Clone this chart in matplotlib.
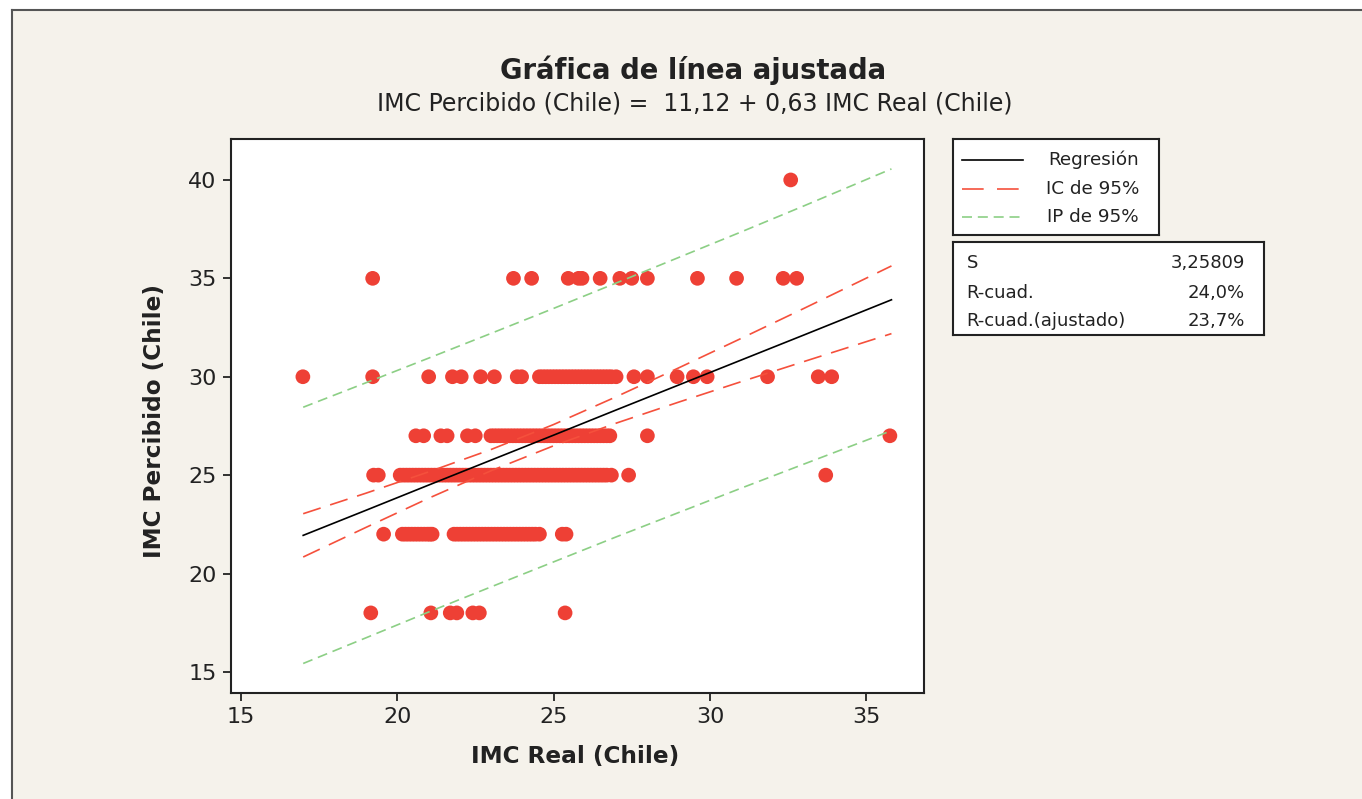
import matplotlib
matplotlib.use("Agg")
import matplotlib.pyplot as plt
from matplotlib.patches import Rectangle
from matplotlib.lines import Line2D

plt.rcParams['font.family'] = ['DejaVu Sans']

# IMC real de cada punto, agrupado por el IMC percibido (filas)
x_18 = [19.16, 21.08, 21.7, 21.91, 22.42, 22.63, 25.37]
x_22 = [19.57, 20.17, 20.27, 20.37, 20.47, 20.57, 20.67, 20.77, 20.87, 20.97,
        21.05, 21.12, 21.82, 21.92, 22.02, 22.12, 22.22, 22.32, 22.42, 22.52,
        22.62, 22.72, 22.82, 22.92, 23.02, 23.12, 23.22, 23.32, 23.42, 23.52,
        23.62, 23.72, 23.82, 23.92, 24.02, 24.12, 24.22, 24.32, 24.42, 24.55,
        25.28, 25.4]
x_25 = [19.25, 19.4, 20.1, 20.2, 20.3, 20.4, 20.5, 20.6, 20.7, 20.8, 20.9,
        21.0, 21.1, 21.2, 21.3, 21.4, 21.5, 21.6, 21.7, 21.8, 21.9, 22.0,
        22.1, 22.2, 22.3, 22.4, 22.5, 22.6, 22.7, 22.8, 22.9, 23.0, 23.1,
        23.2, 23.3, 23.4, 23.5, 23.6, 23.7, 23.8, 23.9, 24.0, 24.1, 24.2,
        24.3, 24.4, 24.5, 24.6, 24.7, 24.8, 24.9, 25.0, 25.1, 25.2, 25.3,
        25.4, 25.5, 25.6, 25.7, 25.8, 25.9, 26.0, 26.1, 26.2, 26.3, 26.4,
        26.5, 26.6, 26.7, 26.85, 27.4, 33.7]
x_27 = [20.6, 20.85, 21.4, 21.6, 22.25, 22.5, 23.0, 23.1, 23.2, 23.3, 23.4,
        23.5, 23.6, 23.7, 23.8, 23.9, 24.0, 24.1, 24.2, 24.3, 24.4, 24.5,
        24.6, 24.7, 24.8, 24.9, 25.0, 25.1, 25.2, 25.3, 25.4, 25.5, 25.6,
        25.7, 25.8, 25.9, 26.0, 26.1, 26.2, 26.3, 26.4, 26.5, 26.6, 26.7,
        26.8, 28.0, 35.75]
x_30 = [16.99, 19.22, 21.01, 21.77, 22.05, 22.67, 23.11, 23.84, 23.98, 24.55,
        24.65, 24.75, 24.85, 24.95, 25.05, 25.15, 25.25, 25.35, 25.45, 25.55,
        25.65, 25.75, 25.85, 25.95, 26.05, 26.15, 26.25, 26.35, 26.45, 26.55,
        26.65, 26.75, 26.85, 27.0, 27.57, 28.0, 28.95, 29.47, 29.91, 31.84,
        33.46, 33.89]
x_35 = [19.22, 23.72, 24.3, 25.47, 25.8, 25.91, 26.49, 27.12, 27.5, 28.0,
        29.6, 30.85, 32.34, 32.77]
x_40 = [32.58]
rows = {18: x_18, 22: x_22, 25: x_25, 27: x_27, 30: x_30, 35: x_35, 40: x_40}

# recta ajustada y bandas
fit_x = [17.0, 19.0, 21.0, 23.0, 25.0, 27.0, 29.0, 31.0, 33.0, 35.8]
reg_y = [21.94, 23.21, 24.49, 25.76, 27.03, 28.31, 29.58, 30.85, 32.12, 33.91]
ci_lo = [20.84, 22.34, 23.82, 25.22, 26.49, 27.64, 28.71, 29.75, 30.77, 32.19]
ci_hi = [23.04, 24.08, 25.16, 26.30, 27.57, 28.98, 30.45, 31.95, 33.47, 35.63]
pi_lo = [15.43, 16.73, 18.04, 19.32, 20.59, 21.86, 23.10, 24.34, 25.56, 27.26]
pi_hi = [28.45, 29.69, 30.94, 32.20, 33.47, 34.76, 36.06, 37.36, 38.68, 40.56]

legend_labels = ["Regresión", "IC de 95%", "IP de 95%"]
stat_names = ["S", "R-cuad.", "R-cuad.(ajustado)"]
stat_values = ["3,25809", "24,0%", "23,7%"]

RED = '#ee4035'
LINE_RED = '#f5503c'
GREEN = '#8ccf85'
TXT = '#222222'

W, H = 1362, 799
fig = plt.figure(figsize=(W / 100, H / 100), dpi=100, facecolor='white')
fig.patches.append(Rectangle((12 / W, 0), 1, 1 - 10 / H, transform=fig.transFigure,
                             facecolor='#f5f2eb', edgecolor='none', zorder=-10))
fig.add_artist(Line2D([12 / W, 1], [1 - 10 / H] * 2, color='#555555', lw=1.5))
fig.add_artist(Line2D([12 / W] * 2, [0, 1 - 10 / H], color='#555555', lw=1.5))

ax = fig.add_axes([230.6 / W, 1 - 693 / H, (924 - 230.6) / W, (693 - 139) / H])
ax.set_facecolor('white')

xs, ys = [], []
for yv, xl in rows.items():
    xs += xl
    ys += [yv] * len(xl)
ax.scatter(xs, ys, s=112, color=RED, edgecolors='none', zorder=2)

ax.plot(fit_x, reg_y, color='black', lw=1.2, zorder=3)
for band in (ci_lo, ci_hi):
    ax.plot(fit_x, band, color=LINE_RED, lw=1.2, dashes=(11, 6), zorder=3)
for band in (pi_lo, pi_hi):
    ax.plot(fit_x, band, color=GREEN, lw=1.2, dashes=(6, 3.5), zorder=3)

ax.set_xlim(14.68, 36.84)
ax.set_ylim(13.93, 42.08)
ax.set_xticks([15, 20, 25, 30, 35])
ax.set_yticks([15, 20, 25, 30, 35, 40])
ax.tick_params(direction='out', length=6, width=1.3, labelsize=16, colors=TXT, pad=4)
for sp in ax.spines.values():
    sp.set_linewidth(1.5)
    sp.set_color(TXT)

fig.text(693 / W, 1 - 70 / H, "Gráfica de línea ajustada", ha='center', va='center',
         fontsize=19.8, fontweight='bold', color=TXT)
fig.text(695 / W, 1 - 104 / H, "IMC Percibido (Chile) =  11,12 + 0,63 IMC Real (Chile)",
         ha='center', va='center', fontsize=17, color=TXT)
fig.text(575 / W, 1 - 757 / H, "IMC Real (Chile)", ha='center', va='center',
         fontsize=16.7, fontweight='bold', color=TXT)
fig.text(155 / W, 1 - 421 / H, "IMC Percibido (Chile)", ha='center', va='center',
         rotation=90, fontsize=16.7, fontweight='bold', color=TXT)

# cuadro de leyenda (coordenadas en pixeles)
lg = fig.add_axes([953.3 / W, 1 - 235 / H, (1159.3 - 953.3) / W, (235 - 139.3) / H])
lg.set_xlim(953.3, 1159.3)
lg.set_ylim(235, 139.3)
lg.set_xticks([])
lg.set_yticks([])
for sp in lg.spines.values():
    sp.set_linewidth(1.5)
    sp.set_color(TXT)
styles = [dict(color='black'), dict(color=LINE_RED, dashes=(13, 8)), dict(color=GREEN, dashes=(6, 3.5))]
for i, (lab, st) in enumerate(zip(legend_labels, styles)):
    yy = [160, 189, 217][i]
    lg.plot([961.7, 1023.3], [yy, yy], lw=1.2, **st)
    lg.text(1139, yy, lab, ha='right', va='center', fontsize=13.2, color=TXT)

st_ax = fig.add_axes([953.3 / W, 1 - 335 / H, (1264.3 - 953.3) / W, (335 - 242.3) / H])
st_ax.set_xlim(953.3, 1264.3)
st_ax.set_ylim(335, 242.3)
st_ax.set_xticks([])
st_ax.set_yticks([])
for sp in st_ax.spines.values():
    sp.set_linewidth(1.5)
    sp.set_color(TXT)
for i, (n, v) in enumerate(zip(stat_names, stat_values)):
    yy = [263, 293, 321][i]
    st_ax.text(966.7, yy, n, ha='left', va='center', fontsize=13, color=TXT)
    st_ax.text(1245, yy, v, ha='right', va='center', fontsize=13, color=TXT)

fig.savefig("out.png", dpi=100, facecolor=fig.get_facecolor())
